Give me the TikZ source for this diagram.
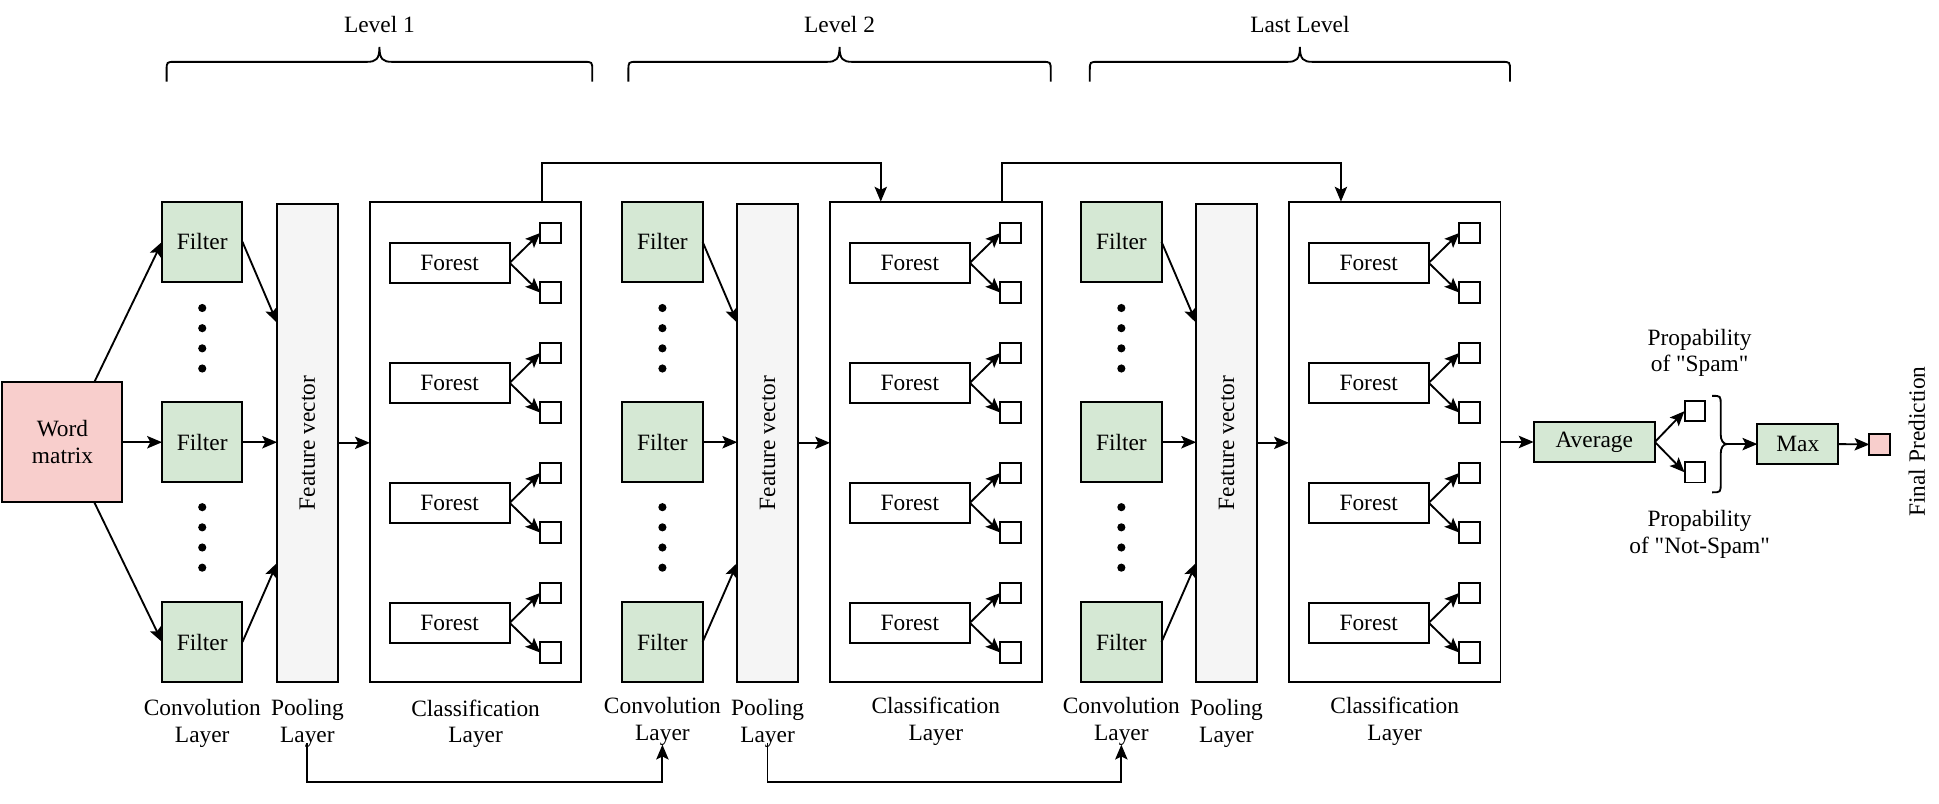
\documentclass[tikz,border=0pt]{standalone}
\usepackage{fontspec}
\setmainfont{Liberation Serif}[Ligatures=TeXOff]
\usetikzlibrary{arrows.meta,calc}
\definecolor{gfill}{HTML}{D5E8D4}
\definecolor{pfill}{HTML}{F8CECC}
\definecolor{fvfill}{HTML}{F5F5F5}
\begin{document}
\begin{tikzpicture}[x=1pt,y=-1pt,
  every node/.style={font=\fontsize{18.9}{21.5}\selectfont, inner sep=0pt, outer sep=0pt},
  bx/.style 2 args={draw, line width=1.6pt, minimum width=#1pt, minimum height=#2pt, inner sep=0pt},
  filterbox/.style={bx={65}{65}, fill=gfill},
  wordbox/.style={bx={97}{97}, fill=pfill, align=center},
  fvbox/.style={bx={49}{386}, fill=fvfill},
  clsbox/.style={bx={171}{388}, fill=white},
  forestbox/.style={bx={97}{32}, fill=white},
  leaf/.style={bx={16.5}{16.5}, fill=white},
  lbl/.style={align=center},
  arr/.style={line width=1.5pt, -{Stealth[length=12pt,width=10pt,inset=2.5pt]}},
  ln/.style={line width=1.5pt}]
\fill[white] (0,0) rectangle (1567.5,649.2);
\useasboundingbox (0,0) rectangle (1567.5,649.2);

% level braces
\foreach \a/\b/\t/\j in {134.7/478.8/Level 1/1, 508/849.4/Level 2/2, 881/1220.7/Last Level/3}{
  \pgfmathsetmacro\m{(\a+\b)/2}
  \draw[ln] (\a,66) -- (\a,57) .. controls (\a,50) .. (\a+7,50) -- (\m-10,50)
    .. controls (\m-3,50) and (\m,48) .. (\m,38)
    .. controls (\m,48) and (\m+3,50) .. (\m+10,50) -- (\b-7,50)
    .. controls (\b,50) .. (\b,57) -- (\b,66);
  \node (lev\j) at (\m,20.2) {\t};
}

% word matrix
\node[wordbox] (wm) at (50.5,357.5) {Word\\matrix};

% levels
\foreach \o/\i/\ly in {0/1/585, 372/2/583, 743/3/583}{
  \node[filterbox] (fl\i1) at (163.5+\o,195.5) {Filter};
  \node[filterbox] (fl\i2) at (163.5+\o,357.5) {Filter};
  \node[filterbox] (fl\i3) at (163.5+\o,519) {Filter};
  \foreach \dy in {249,265.3,281.6,297.9,410,426.3,442.6,458.9}{
    \fill (163.5+\o,\dy) circle (3.3);
  }
  \node[fvbox] (fv\i) at (248.5+\o,358) {\rotatebox{90}{Feature vector}};
  \node[clsbox] (cls\i) at (384.5+\o,357) {};
  \foreach \k in {0,1,2,3}{
    \node[forestbox] (fo\i\k) at (363.5+\o,212.5+97*\k) {Forest};
    \node[leaf] (la\i\k) at (445+\o,188.3+97*\k) {};
    \node[leaf] (lb\i\k) at (445+\o,236.6+97*\k) {};
    \draw[arr] (fo\i\k.east) -- (la\i\k.west);
    \draw[arr] (fo\i\k.east) -- (lb\i\k.west);
  }
  \draw[arr] (fl\i1.east) -- (fv\i.west |- 0,261);
  \draw[arr] (fl\i2.east) -- (fv\i.west |- fl\i2.east);
  \draw[arr] (fl\i3.east) -- (fv\i.west |- 0,455);
  \draw[arr] (fv\i.east) -- (cls\i.west |- fv\i.east);
  \node[lbl] (cl\i) at (163.5+\o,\ly) {Convolution\\Layer};
  \node[lbl] (pl\i) at (248.5+\o,585) {Pooling\\Layer};
  \node[lbl] (ca\i) at (384.5+\o,\ly) {Classification\\Layer};
}

% word matrix to filters
\draw[arr] ($(wm.north west)!0.765!(wm.north east)$) -- (fl11.west);
\draw[arr] (wm.east) -- (fl12.west);
\draw[arr] ($(wm.south west)!0.765!(wm.south east)$) -- (fl13.west);

% top skip connectors
\draw[arr] (438,0 |- cls1.north) -- (438,131.5) -| (712,0 |- cls2.north);
\draw[arr] (810,0 |- cls2.north) -- (810,131.5) -| (1084,0 |- cls3.north);

% bottom connectors
\draw[arr] (pl1.south |- 0,601) -- (pl1.south |- 0,632) -| (cl2.south |- 0,602);
\draw[arr] (pl2.south |- 0,601) -- (pl2.south |- 0,632) -| (cl3.south |- 0,602);

% output section
\node[bx={98}{33}, fill=gfill] (avg) at (1288.8,357.3) {Average};
\draw[arr] (cls3.east |- avg.west) -- (avg.west);
\node[leaf] (so1) at (1370,332.4) {};
\node[leaf] (so2) at (1370,381.8) {};
\draw[arr] (avg.east) -- (so1.west);
\draw[arr] (avg.east) -- (so2.west);
\draw[ln] (1384,320) .. controls (1391,320) .. (1391,327) -- (1391,351)
  .. controls (1391,356) and (1393,359) .. (1396,359)
  .. controls (1393,359) and (1391,362) .. (1391,367) -- (1391,391)
  .. controls (1391,398) .. (1384,398);
\coordinate (bt) at (1396,359);
\node[bx={65.5}{32.5}, fill=gfill] (mx) at (1453.4,359) {Max};
\draw[arr] (bt) -- (mx.west);
\node[bx={16.5}{16.5}, fill=pfill] (pred) at (1519.5,359.3) {};
\draw[arr] (mx.east) -- (pred.west);
\node (fp) at (1549.5,357) {\rotatebox{90}{Final Prediction}};
\node[lbl] (ps) at (1374,285.3) {Propability\\of "Spam"};
\node[lbl] (pn) at (1374,431.8) {Propability\\of "Not-Spam"};
\end{tikzpicture}
\end{document}
